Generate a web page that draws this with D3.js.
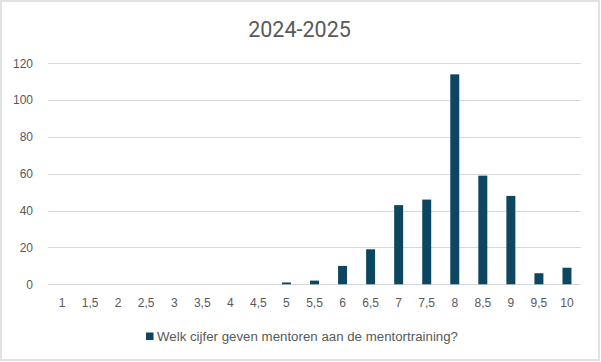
<!DOCTYPE html>
<html>
<head>
<meta charset="utf-8">
<script src="https://cdn.jsdelivr.net/npm/d3@7"></script>
<style>
  html, body { margin: 0; padding: 0; background: #fff; }
  svg { display: block; }
</style>
</head>
<body>
<script>
const title = "2024-2025";
const seriesName = "Welk cijfer geven mentoren aan de mentortraining?";
const categories = ["1","1,5","2","2,5","3","3,5","4","4,5","5","5,5","6","6,5","7","7,5","8","8,5","9","9,5","10"];
const values = [0,0,0,0,0,0,0,0,1,2,10,19,43,46,114,59,48,6,9];
const yTicks = [0,20,40,60,80,100,120];

const W = 601, H = 362;
const margin = {left: 48, right: 20, top: 63.3, bottom: 77.7};
const barColor = "#0c4660";
const textColor = "#595959";

const svg = d3.select("body").append("svg").attr("width", W).attr("height", H);

svg.append("rect")
  .attr("x", 1).attr("y", 1).attr("width", W - 3).attr("height", H - 3)
  .attr("fill", "#fff").attr("stroke", "#d9d9d9").attr("stroke-width", 1.5);

const x = d3.scaleBand().domain(categories).range([margin.left, W - margin.right]).paddingInner(0.68).paddingOuter(0.34);
const y = d3.scaleLinear().domain([0, 120]).range([H - margin.bottom, margin.top]);

// gridlines
svg.append("g").selectAll("line").data(yTicks).join("line")
  .attr("x1", margin.left).attr("x2", W - margin.right)
  .attr("y1", d => Math.round(y(d)) + 0.5).attr("y2", d => Math.round(y(d)) + 0.5)
  .attr("stroke", "#d9d9d9").attr("stroke-width", 1);

// y axis labels
const yAxis = d3.axisLeft(y).tickValues(yTicks).tickSize(0).tickPadding(0);
const gy = svg.append("g").attr("transform", `translate(${margin.left - 15},0)`).call(yAxis);
gy.select(".domain").remove();
gy.selectAll("text").attr("fill", textColor).style("font-family", "'Liberation Sans', Arial, sans-serif").style("font-size", "12px");

// bars
svg.append("g").selectAll("rect").data(values).join("rect")
  .attr("x", (d, i) => x(categories[i]))
  .attr("width", x.bandwidth())
  .attr("y", d => y(d))
  .attr("height", d => y(0) - y(d))
  .attr("fill", barColor);

// x axis labels
const xAxis = d3.axisBottom(x).tickSize(0).tickPadding(0);
const gx = svg.append("g").attr("transform", `translate(0,${y(0) + 14})`).call(xAxis);
gx.select(".domain").remove();
gx.selectAll("text").attr("fill", textColor).style("font-family", "'Liberation Sans', Arial, sans-serif").style("font-size", "12px");

// title
svg.append("text").attr("x", 299.5).attr("y", 37.3).attr("text-anchor", "middle")
  .attr("fill", textColor)
  .style("font-family", "Roboto, 'Liberation Sans', sans-serif")
  .style("font-size", "21.5px")
  .text(title);

// legend
const lg = svg.append("g");
lg.append("rect").attr("x", 146).attr("y", 332.5).attr("width", 7.5).attr("height", 7.5).attr("fill", barColor);
lg.append("text").attr("x", 157).attr("y", 340.5).attr("fill", textColor)
  .style("font-family", "'Liberation Sans', Arial, sans-serif").style("font-size", "12px")
  .attr("textLength", 301).attr("lengthAdjust", "spacingAndGlyphs")
  .text(seriesName);
</script>
</body>
</html>
